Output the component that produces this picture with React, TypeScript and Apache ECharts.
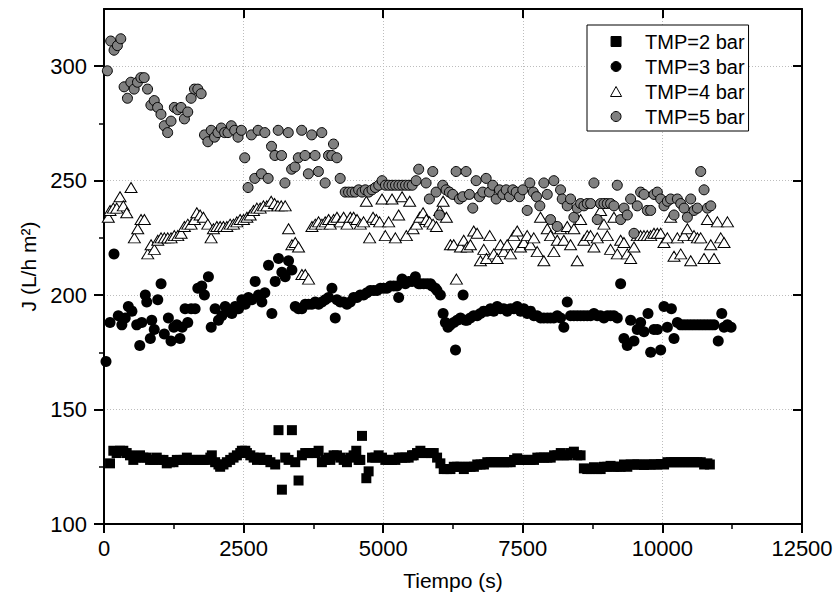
import React, { useEffect, useRef } from "react";
import * as echarts from "echarts";

const xMajorTicks = [0, 2500, 5000, 7500, 10000, 12500];
const xMinorTicks = [1250, 3750, 6250, 8750, 11250];
const yMajorTicks = [100, 150, 200, 250, 300];
const yMinorTicks = [125, 175, 225, 275];
const seriesNames = ["TMP=2 bar", "TMP=3 bar", "TMP=4 bar", "TMP=5 bar"];

const tmp2Data = [
  [108,126.5],[167,132],[226,131],[286,132],[346,132],[406,131],[466,130],[525,128],[585,129],[645,130],[705,129],[765,129],[825,128],[885,128],[945,129],[1005,128],[1065,128],[1124,126.5],[1184,127],[1244,127],[1304,128],[1364,128],[1424,128],[1484,129],[1544,128],[1604,128],[1664,128],[1724,128],[1784,128],[1844,128],[1904,129],[1931,130],[1990,127],[2050,126],[2080,125],[2140,126],[2200,127],[2260,128],[2320,129],[2380,130],[2440,131],[2469,132],[2530,132],[2559,131],[2620,130],[2680,129],[2740,128],[2800,129],[2860,128],[2920,128],[2980,127],[3066,126],[3125,141],[3186,115],[3245,129],[3305,128],[3365,141],[3425,127],[3484,119],[3544,130],[3604,131],[3663,131],[3723,131],[3783,131],[3843,132],[3902,127],[3962,128],[4022,129],[4052,128],[4112,130],[4172,130],[4232,129],[4292,128],[4351,127],[4411,129],[4470,130],[4518,132],[4560,128],[4590,128],[4620,138.5],[4698,120],[4739,123],[4800,129],[4860,129],[4918,130],[4978,129],[5038,128],[5098,128],[5158,128],[5218,128],[5277,129],[5337,129],[5397,129],[5456,129],[5516,130],[5546,130],[5606,131],[5666,132],[5726,131],[5786,131],[5846,131],[5905,131],[5965,129],[6024,126.5],[6084,124],[6144,124],[6204,124],[6264,125],[6324,125],[6384,125],[6444,124],[6504,125],[6564,125],[6624,125],[6684,126],[6744,126],[6804,126],[6864,127],[6924,127],[6984,127],[7044,127],[7104,127],[7164,127],[7224,127],[7284,127],[7344,128],[7400,128.7],[7460,128],[7520,128],[7580,128],[7640,128],[7700,128],[7760,129],[7820,129],[7880,129],[7940,129],[8000,129],[8060,130],[8120,130],[8180,131],[8235,130],[8295,130],[8355,131],[8415,131.6],[8475,130],[8535,130],[8594,124.3],[8654,124],[8714,124],[8774,124.8],[8834,124],[8894,124],[8954,125],[9014,125],[9072,125.4],[9132,125],[9192,125],[9252,125],[9312,126],[9372,125],[9432,126],[9492,126],[9552,126],[9612,126],[9670,125.8],[9730,126],[9790,126],[9850,126],[9910,126],[9969,126.2],[10030,126],[10090,127],[10150,127],[10210,127],[10268,127],[10328,127],[10388,127],[10448,127],[10508,127],[10567,127],[10627,127],[10687,127],[10747,126],[10806,126.5],[10850,126]
];

const tmp3Data = [
  [36,171],[108,188],[179,218],[256,191],[320,187],[380,190],[436,195],[500,193],[586,187],[640,178],[676,188],[740,200],[766,197],[830,181],[855,189],[900,185],[963,198],[1022,205],[1080,183],[1153,190],[1200,180],[1250,186],[1304,187],[1360,181],[1400,186],[1452,194],[1500,188],[1560,194],[1632,194],[1680,203],[1751,204],[1798,200],[1870,208],[1920,186],[1990,194],[2050,189],[2110,191],[2170,195],[2229,193],[2290,192],[2349,195],[2410,194],[2469,198],[2530,196],[2587,199],[2648,198],[2707,206],[2767,200],[2827,197],[2880,201],[2946,213],[3006,192],[3066,206],[3125,216],[3185,210],[3245,208],[3305,215],[3365,211],[3425,195],[3484,194],[3544,194],[3604,196],[3663,196],[3723,196],[3783,197],[3843,196],[3903,197],[3962,198],[4022,199],[4082,203],[4141,190],[4172,198],[4231,197],[4291,197],[4351,196],[4411,197],[4470,199],[4531,199],[4590,200],[4649,200],[4709,201],[4769,202],[4830,202],[4890,202],[4950,203],[5008,203],[5068,203],[5128,204],[5188,204],[5248,204],[5277,199],[5338,207],[5397,205],[5456,206],[5516,206],[5576,208],[5636,205],[5666,205],[5726,205],[5786,205],[5846,205],[5875,204],[5935,203],[5965,202],[6024,200],[6073,192],[6114,188],[6160,186],[6204,187],[6264,188],[6295,176],[6324,189],[6384,190],[6431,200],[6470,189],[6503,189],[6560,190],[6620,191],[6682,191],[6740,192],[6801,193],[6860,193],[6921,194],[6980,193],[7041,195],[7100,194],[7160,194],[7220,193],[7279,194],[7340,194],[7400,195],[7460,193],[7518,194],[7580,192],[7638,193],[7700,191],[7758,191],[7820,190],[7877,190],[7940,190],[7997,190],[8056,190],[8117,191],[8176,190],[8235,186],[8296,197],[8355,191],[8415,191],[8475,191],[8535,191],[8595,191],[8655,191],[8714,191],[8774,192],[8834,191],[8893,191],[8953,190],[9013,191],[9072,191],[9132,191],[9192,190],[9252,205],[9311,181],[9371,178],[9431,189],[9491,180],[9550,185],[9610,188],[9670,184],[9742,192],[9790,175],[9849,185],[9909,185],[9969,176],[10028,195],[10089,186],[10161,194],[10208,181],[10268,188],[10328,187],[10387,187],[10447,187],[10507,187],[10566,187],[10627,187],[10686,187],[10746,187],[10806,187],[10866,187],[10925,187],[11000,180],[11063,192],[11104,186],[11165,187],[11230,186]
];

const tmp4Data = [
  [77,234],[108,237],[167,238],[228,238],[287,243],[346,239],[407,236],[484,247],[544,225],[604,229],[663,233],[723,233],[783,218],[843,222],[902,220],[963,224],[1022,225],[1081,225],[1142,225],[1201,225],[1260,226],[1321,226],[1381,227],[1440,230],[1501,231],[1560,231],[1619,233],[1662,236],[1721,235],[1780,234],[1859,231],[1918,225],[1960,229],[2021,230],[2080,230],[2139,230],[2200,230],[2259,231],[2318,231],[2379,232],[2438,233],[2498,233],[2559,234],[2618,235],[2677,237],[2738,238],[2797,238],[2856,239],[2917,239],[2994,241],[3054,240],[3115,239],[3174,239],[3245,239],[3305,229],[3365,222],[3425,223],[3484,221],[3544,209],[3604,209],[3663,207],[3724,230],[3783,231],[3843,232],[3903,231],[3962,232],[4022,233],[4052,231],[4112,233],[4172,234],[4231,232],[4291,234],[4352,231],[4411,234],[4470,234],[4531,233],[4590,231],[4649,232],[4698,241],[4757,225],[4818,234],[4877,233],[4936,232],[4979,242],[5038,226],[5098,232],[5158,242],[5218,225],[5277,235],[5338,243],[5415,226],[5474,241],[5535,229],[5594,231],[5653,234],[5714,236],[5773,233],[5832,232],[5893,231],[5953,230],[6012,237],[6073,241],[6132,234],[6204,222],[6263,222],[6311,207],[6383,221],[6442,224],[6503,221],[6562,222],[6621,228],[6682,227],[6741,215],[6801,220],[6849,216],[6908,226],[6980,218],[7041,216],[7100,222],[7160,219],[7220,222],[7279,218],[7339,226],[7400,228],[7459,221],[7518,223],[7579,226],[7638,222],[7697,225],[7758,219],[7817,234],[7877,215],[7938,229],[7997,226],[8056,219],[8117,224],[8176,229],[8235,224],[8296,230],[8355,222],[8415,229],[8475,215],[8535,233],[8594,224],[8655,226],[8714,226],[8774,221],[8834,225],[8893,237],[8953,231],[9013,226],[9072,220],[9132,234],[9192,218],[9252,224],[9311,223],[9371,218],[9431,216],[9491,221],[9550,226],[9610,226],[9670,226],[9730,226],[9790,226],[9849,227],[9909,227],[9969,227],[10028,223],[10089,225],[10148,234],[10208,217],[10268,225],[10328,218],[10387,226],[10447,229],[10507,215],[10566,226],[10627,225],[10686,225],[10746,216],[10806,233],[10866,222],[10925,216],[10985,232],[11045,225],[11104,223],[11165,232]
];

const tmp5Data = [
  [60,298],[120,311],[180,307],[240,309],[300,312],[360,291],[420,286],[480,293],[540,290],[600,293],[660,295],[720,295],[780,290],[840,283],[900,285],[960,282],[1020,279],[1080,274],[1140,271],[1200,276],[1260,282],[1320,281],[1380,282],[1440,277],[1500,280],[1560,286],[1620,290],[1680,290],[1740,288],[1800,270],[1860,267],[1920,272],[1980,269],[2040,271],[2100,273],[2160,271],[2220,271],[2280,274],[2340,272],[2400,269],[2460,272],[2520,260],[2580,247],[2640,270],[2700,251],[2760,272],[2820,253],[2880,271],[2940,251],[3000,265],[3060,261],[3120,272],[3180,261],[3240,249],[3300,271],[3360,255],[3420,256],[3480,260],[3540,272],[3600,261],[3660,253],[3720,270],[3780,261],[3840,254],[3900,271],[3960,249],[4020,261],[4080,261],[4110,266],[4170,260],[4230,251],
  [4320,245],[4380,245],[4440,245],[4500,245],[4560,246],[4620,245],[4680,246],[4740,245],[4800,246],[4860,247],[4920,248],[4980,250],[5040,248],[5100,248],[5160,248],[5220,248],[5280,248],[5340,248],[5400,248],[5460,248],[5520,248],[5590,250],[5636,255],[5768,249],[5827,242],[5887,254],[5947,245],[6007,235],[6066,248],[6126,246],[6186,245],[6245,244],[6306,254],[6365,242],[6424,243],[6485,254],[6544,244],[6604,238],[6665,250],[6724,243],[6783,245],[6844,251],[6903,245],[6962,248],[7023,242],[7082,246],[7142,244],[7203,246],[7262,243],[7321,246],[7382,245],[7441,243],[7500,246],[7579,237],[7626,249],[7687,245],[7746,243],[7805,239],[7877,249],[7938,244],[7997,233],[8056,250],[8117,230],
  [8176,246],[8206,242],[8296,239],[8355,242],[8415,234],[8475,238],[8535,240],[8595,239],[8655,240],[8715,240],[8774,249],[8834,233],[8893,240],[8953,240],[9013,240],[9072,240],[9132,239],[9192,248],[9252,233],[9312,238],[9371,235],[9431,242],[9491,227],[9550,239],[9610,245],[9670,244],[9730,237],[9790,237],[9850,244],[9909,245],[9969,242],[10029,239],[10089,241],[10148,242],[10208,235],[10268,242],[10328,240],[10388,238],[10447,234],[10507,242],[10567,237],[10627,238],[10686,254],[10746,246],[10806,238],[10866,239]
];

export default function App() {
  const ref = useRef<HTMLDivElement>(null);
  useEffect(() => {
    document.body.style.margin = "0";
    const chart = echarts.init(ref.current as HTMLDivElement, null, { renderer: "svg" });
    const font = "'Liberation Sans', Arial, sans-serif";
    const black = "#000";
    const grid = { show: true, lineStyle: { color: "#bdbdbd", width: 1, type: [1, 2] } };
    const none = { show: false };
    const xBase = { type: "value", min: 0, max: 12500 };
    const yBase = { type: "value", min: 100, max: 325 };
    chart.setOption({
      animation: false,
      backgroundColor: "#fff",
      grid: { left: 104, top: 9, right: 34, bottom: 79, containLabel: false },
      xAxis: [
        {
          ...xBase, position: "bottom", interval: 1250,
          axisLine: { show: true, onZero: false, lineStyle: { color: black, width: 2 } },
          axisTick: { show: true, inside: false, length: 9, customValues: xMajorTicks, lineStyle: { color: black, width: 2 } },
          axisLabel: {
            show: true, customValues: xMajorTicks, margin: 13, fontSize: 22, color: black, fontFamily: font,
            formatter: (v: number) => String(v),
          },
          splitLine: grid,
          name: "Tiempo (s)", nameLocation: "middle", nameGap: 46,
          nameTextStyle: { fontSize: 21, color: black, fontFamily: font },
        },
        {
          ...xBase, position: "bottom",
          axisLine: { show: false, onZero: false },
          axisTick: { show: true, inside: false, length: 5, customValues: xMinorTicks, lineStyle: { color: black, width: 1.5 } },
          axisLabel: none, splitLine: none,
        },
        {
          ...xBase, position: "top",
          axisLine: { show: true, onZero: false, lineStyle: { color: black, width: 2 } },
          axisTick: { show: true, inside: true, length: 9, customValues: xMajorTicks, lineStyle: { color: black, width: 2 } },
          axisLabel: none, splitLine: none,
        },
      ],
      yAxis: [
        {
          ...yBase, position: "left", interval: 25,
          axisLine: { show: true, onZero: false, lineStyle: { color: black, width: 2 } },
          axisTick: { show: true, inside: false, length: 10, customValues: yMajorTicks, lineStyle: { color: black, width: 2 } },
          axisLabel: {
            show: true, customValues: yMajorTicks, margin: 17, fontSize: 22, color: black, fontFamily: font,
            formatter: (v: number) => String(v),
          },
          splitLine: grid,
          name: "J (L/h m²)", nameLocation: "middle", nameGap: 64,
          nameTextStyle: { fontSize: 21, color: black, fontFamily: font },
        },
        {
          ...yBase, position: "left",
          axisLine: { show: false, onZero: false },
          axisTick: { show: true, inside: false, length: 5, customValues: yMinorTicks, lineStyle: { color: black, width: 1.5 } },
          axisLabel: none, splitLine: none,
        },
        {
          ...yBase, position: "right",
          axisLine: { show: true, onZero: false, lineStyle: { color: black, width: 2 } },
          axisTick: { show: true, inside: true, length: 9, customValues: yMajorTicks, lineStyle: { color: black, width: 2 } },
          axisLabel: none, splitLine: none,
        },
      ],
      legend: {
        orient: "vertical", left: 587, top: 25,
        padding: [4, 4, 2, 23],
        itemWidth: 48, itemHeight: 10, itemGap: 0,
        backgroundColor: "#fff", borderColor: black, borderWidth: 1, borderRadius: 0,
        itemStyle: { borderWidth: 1 },
        textStyle: { fontSize: 20, lineHeight: 25, color: black, fontFamily: font },
        data: [
          { name: seriesNames[0], icon: "path://M0,0L10,0L10,10L0,10Z" },
          { name: seriesNames[1], icon: "circle" },
          { name: seriesNames[2], icon: "path://M5,0L10,9L0,9Z" },
          { name: seriesNames[3], icon: "circle" },
        ],
      },
      series: [
        {
          name: seriesNames[0], type: "scatter", data: tmp2Data, symbol: "rect", symbolSize: 10,
          itemStyle: { color: "#000", borderColor: "#000", borderWidth: 0, opacity: 1 },
        },
        {
          name: seriesNames[1], type: "scatter", data: tmp3Data, symbol: "circle", symbolSize: 11,
          itemStyle: { color: "#000", borderColor: "#000", borderWidth: 0, opacity: 1 },
        },
        {
          name: seriesNames[2], type: "scatter", data: tmp4Data, symbol: "triangle", symbolSize: [12, 10],
          itemStyle: { color: "#fff", borderColor: "#000", borderWidth: 1, opacity: 1 },
        },
        {
          name: seriesNames[3], type: "scatter", data: tmp5Data, symbol: "circle", symbolSize: 10,
          itemStyle: { color: "#808080", borderColor: "#000", borderWidth: 1, opacity: 1 },
        },
      ],
    });
    return () => chart.dispose();
  }, []);
  return <div ref={ref} style={{ width: 836, height: 603 }} />;
}
